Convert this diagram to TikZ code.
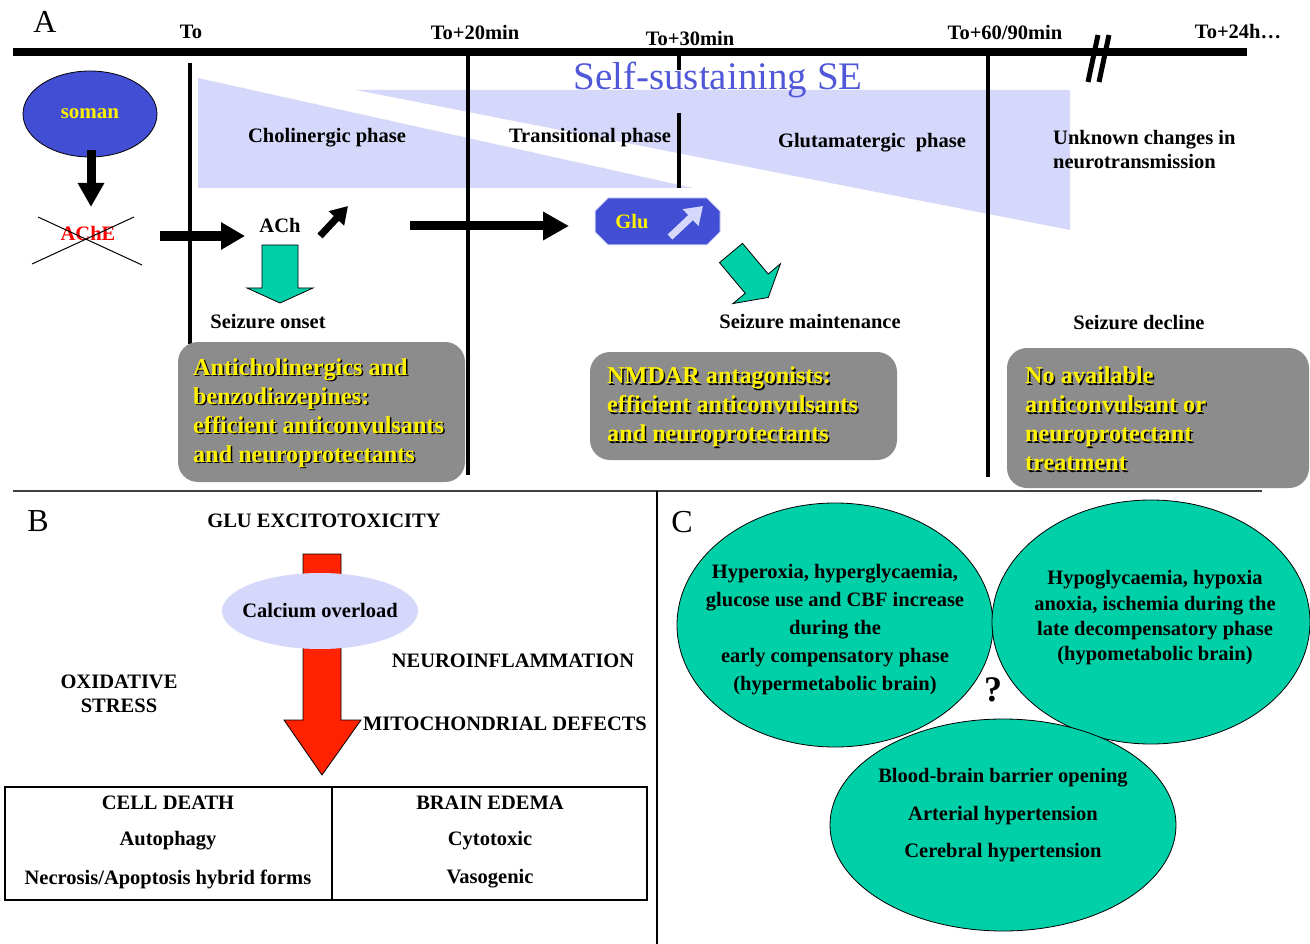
\documentclass[tikz,border=0pt]{standalone}
\usepackage{fontspec}
\setmainfont{Liberation Serif}
\usetikzlibrary{arrows.meta,shapes.geometric,calc}
\definecolor{lav}{HTML}{D5D8FA}
\definecolor{sblue}{HTML}{424ED4}
\definecolor{setxt}{HTML}{5058D8}
\definecolor{gbox}{HTML}{8C8C8C}
\definecolor{grn}{HTML}{00D0A8}
\definecolor{rarrow}{HTML}{FF2200}
\newcommand\shd[1]{\makebox[0pt][l]{\hspace{1.5pt}\raisebox{-1.5pt}{\textcolor{black}{#1}}}#1}
\begin{document}
\begin{tikzpicture}[x=1pt,y=-1pt,
  lbl/.style={font=\fontsize{20.5}{24}\selectfont\bfseries, inner sep=0pt},
  big/.style={font=\fontsize{32}{36}\selectfont, inner sep=0pt},
  ytxt/.style={font=\fontsize{24.2}{29}\selectfont\bfseries, text=yellow, align=left, inner sep=0pt, anchor=west},
  vline/.style={line width=4pt},
  blockarrow/.style={draw=black, line width=0.8pt},
]
\useasboundingbox (0,0) rectangle (1310,944);
% ---------------- Panel A ----------------
\fill[lav] (198,78) -- (693,188) -- (198,188) -- cycle;
\fill[lav] (356,90) -- (1070,90) -- (1070,230) -- cycle;

\node[big] (A) at (45,22) {A};
\draw[line width=8pt] (13,52) -- (1247,52);
\node[lbl] (t0) at (191,32) {To};
\node[lbl] (t20) at (475,32) {To+20min};
\node[lbl] (t30) at (690,38) {To+30min};
\node[lbl] (t60) at (1005,32) {To+60/90min};
\node[lbl] (t24) at (1238,32) {To+24h…};
% break mark
\draw[line width=5pt] (1098,35) -- (1088,82);
\draw[line width=5pt] (1109,35) -- (1099,82);

\draw[vline] (190,63) -- (190,344);
\draw[vline] (468,52) -- (468,475);
\draw[vline] (679,52) -- (679,70);
\draw[vline] (679,113) -- (679,188);
\draw[vline] (988,52) -- (988,477);

\node[font=\fontsize{39}{40}\selectfont, text=setxt, inner sep=0pt] (sse) at (718,80) {Self-sustaining SE};
\node[lbl] (chol) at (327,138) {Cholinergic phase};
\node[lbl] (trans) at (590,138) {Transitional phase};
\node[lbl] (glutph) at (872,143) {Glutamatergic\ \ phase};
\node[lbl, align=left, anchor=west, font=\fontsize{20.5}{24}\selectfont\bfseries] (unk) at (1053,150) {Unknown changes in\\neurotransmission};

\node[ellipse, draw=black, line width=0.8pt, fill=sblue, minimum width=134pt, minimum height=86pt, inner sep=0pt,
      font=\fontsize{21}{22}\selectfont\bfseries, text=yellow] (soman) at (90,114) {soman};
\node[lbl, text=red, font=\fontsize{20.5}{22}\selectfont\bfseries] (ache) at (88,233) {AChE};
\draw[line width=1pt] (38,217) -- (142,265);
\draw[line width=1pt] (134,217) -- (32,264);
\coordinate (s1) at (91,150);
\coordinate (s2) at (91,207);
\draw[line width=9pt, -{Triangle[length=24pt,width=25pt]}] (s1) -- (s2);

\node[lbl] (ach) at (280,225) {ACh};
\coordinate (a1) at (160,236);
\coordinate (a2) at (245,236);
\draw[line width=10pt, -{Triangle[length=24pt,width=26pt]}] (a1) -- (a2);
\coordinate (u1) at (320,236);
\coordinate (u2) at (348,206);
\draw[line width=7pt, -{Triangle[length=17pt,width=20pt]}] (u1) -- (u2);

% green down arrow
\filldraw[fill=grn, blockarrow] (262,245) -- (298,245) -- (298,288) -- (313,288) -- (280,303) -- (247,288) -- (262,288) -- cycle;
\node[lbl] (onset) at (268,322) {Seizure onset};

\coordinate (g1) at (410,226);
\coordinate (g2) at (569,226);
\draw[line width=9pt, -{Triangle[length=26pt,width=27pt]}] (g1) -- (g2);

% Glu block
\filldraw[fill=sblue, draw=lav, line width=1pt] (595,211) -- (608,198) -- (707,198) -- (720,211) -- (720,232) -- (707,245) -- (608,245) -- (595,232) -- cycle;
\node[lbl, text=yellow] (glu) at (632,222) {Glu};
\coordinate (v1) at (670,237);
\coordinate (v2) at (703,206);
\draw[line width=7pt, lav, -{Triangle[length=17pt,width=22pt]}] (v1) -- (v2);

% tilted green arrow
\begin{scope}[shift={(731,253)}, rotate=-50]
\filldraw[fill=grn, blockarrow] (0,-15) -- (40,-15) -- (40,-31) -- (58,0) -- (40,31) -- (40,15) -- (0,15) -- cycle;
\end{scope}
\node[lbl] (maint) at (810,322) {Seizure maintenance};
\node[lbl] (decl) at (1139,323) {Seizure decline};

% gray boxes
\fill[gbox, rounded corners=20pt] (178,342) rectangle (465,482);
\fill[gbox, rounded corners=20pt] (590,352) rectangle (897,460);
\fill[gbox, rounded corners=20pt] (1007,348) rectangle (1309,488);
\node[ytxt] (bx1) at (193,413.5) {\shd{Anticholinergics and}\\\shd{benzodiazepines:}\\\shd{efficient anticonvulsants}\\\shd{and neuroprotectants}};
\node[ytxt] (bx2) at (607,407.5) {\shd{NMDAR antagonists:}\\\shd{efficient anticonvulsants}\\\shd{and neuroprotectants}};
\node[ytxt] (bx3) at (1025,419.5) {\shd{No available}\\\shd{anticonvulsant or}\\\shd{neuroprotectant}\\\shd{treatment}};

% separators
\draw[line width=2pt, black!75] (13,491) -- (1262,491);
\draw[line width=2pt] (657,491) -- (657,944);

% ---------------- Panel B ----------------
\node[big] (B) at (38,521) {B};
\node[lbl] (gluex) at (324,521) {GLU EXCITOTOXICITY};
\filldraw[fill=rarrow, blockarrow] (303,554) -- (341,554) -- (341,720) -- (361,720) -- (322,775) -- (284,720) -- (303,720) -- cycle;
\node[ellipse, fill=lav, minimum width=196pt, minimum height=76pt, inner sep=0pt] (ca) at (320,611) {};
\node[lbl] (catext) at (320,611) {Calcium overload};
\node[lbl] (neuro) at (513,661) {NEUROINFLAMMATION};
\node[lbl, align=center, font=\fontsize{20.5}{24}\selectfont\bfseries] (ox) at (119,694) {OXIDATIVE\\STRESS};
\node[lbl] (mito) at (505,724) {MITOCHONDRIAL DEFECTS};
\draw[line width=1.3pt] (5,787) rectangle (647,900);
\draw[line width=1.3pt] (332,787) -- (332,900);
\node[lbl] (cd) at (168,803) {CELL DEATH};
\node[lbl] (auto) at (168,841) {Autophagy};
\node[lbl] (necro) at (168,879) {Necrosis/Apoptosis hybrid forms};
\node[lbl] (be) at (490,803) {BRAIN EDEMA};
\node[lbl] (cyto) at (490,841) {Cytotoxic};
\node[lbl] (vaso) at (490,879) {Vasogenic};

% ---------------- Panel C ----------------
\node[big] (C) at (682,522) {C};
\node[ellipse, draw=black, line width=0.8pt, fill=grn, minimum width=316pt, minimum height=244pt, inner sep=0pt] (e1) at (835,625) {};
\node[ellipse, draw=black, line width=0.8pt, fill=grn, minimum width=318pt, minimum height=244pt, inner sep=0pt] (e2) at (1151,622) {};
\node[ellipse, draw=black, line width=0.8pt, fill=grn, minimum width=346pt, minimum height=212pt, inner sep=0pt] (e3) at (1003,825) {};
\node[lbl, align=center, font=\fontsize{20.5}{28}\selectfont\bfseries] (e1t) at (835,630) {Hyperoxia, hyperglycaemia,\\glucose use and CBF increase\\during the\\early compensatory phase\\(hypermetabolic brain)};
\node[lbl, align=center, font=\fontsize{20.5}{25.3}\selectfont\bfseries] (e2t) at (1155,618) {Hypoglycaemia, hypoxia\\anoxia, ischemia during the\\late decompensatory phase\\(hypometabolic brain)};
\node[lbl, align=center, font=\fontsize{20.5}{37.5}\selectfont\bfseries] (e3t) at (1003,815.5) {Blood-brain barrier opening\\Arterial hypertension\\Cerebral hypertension};
\node[font=\fontsize{36}{40}\selectfont\bfseries, inner sep=0pt] (q) at (993,690) {?};
\end{tikzpicture}
\end{document}
